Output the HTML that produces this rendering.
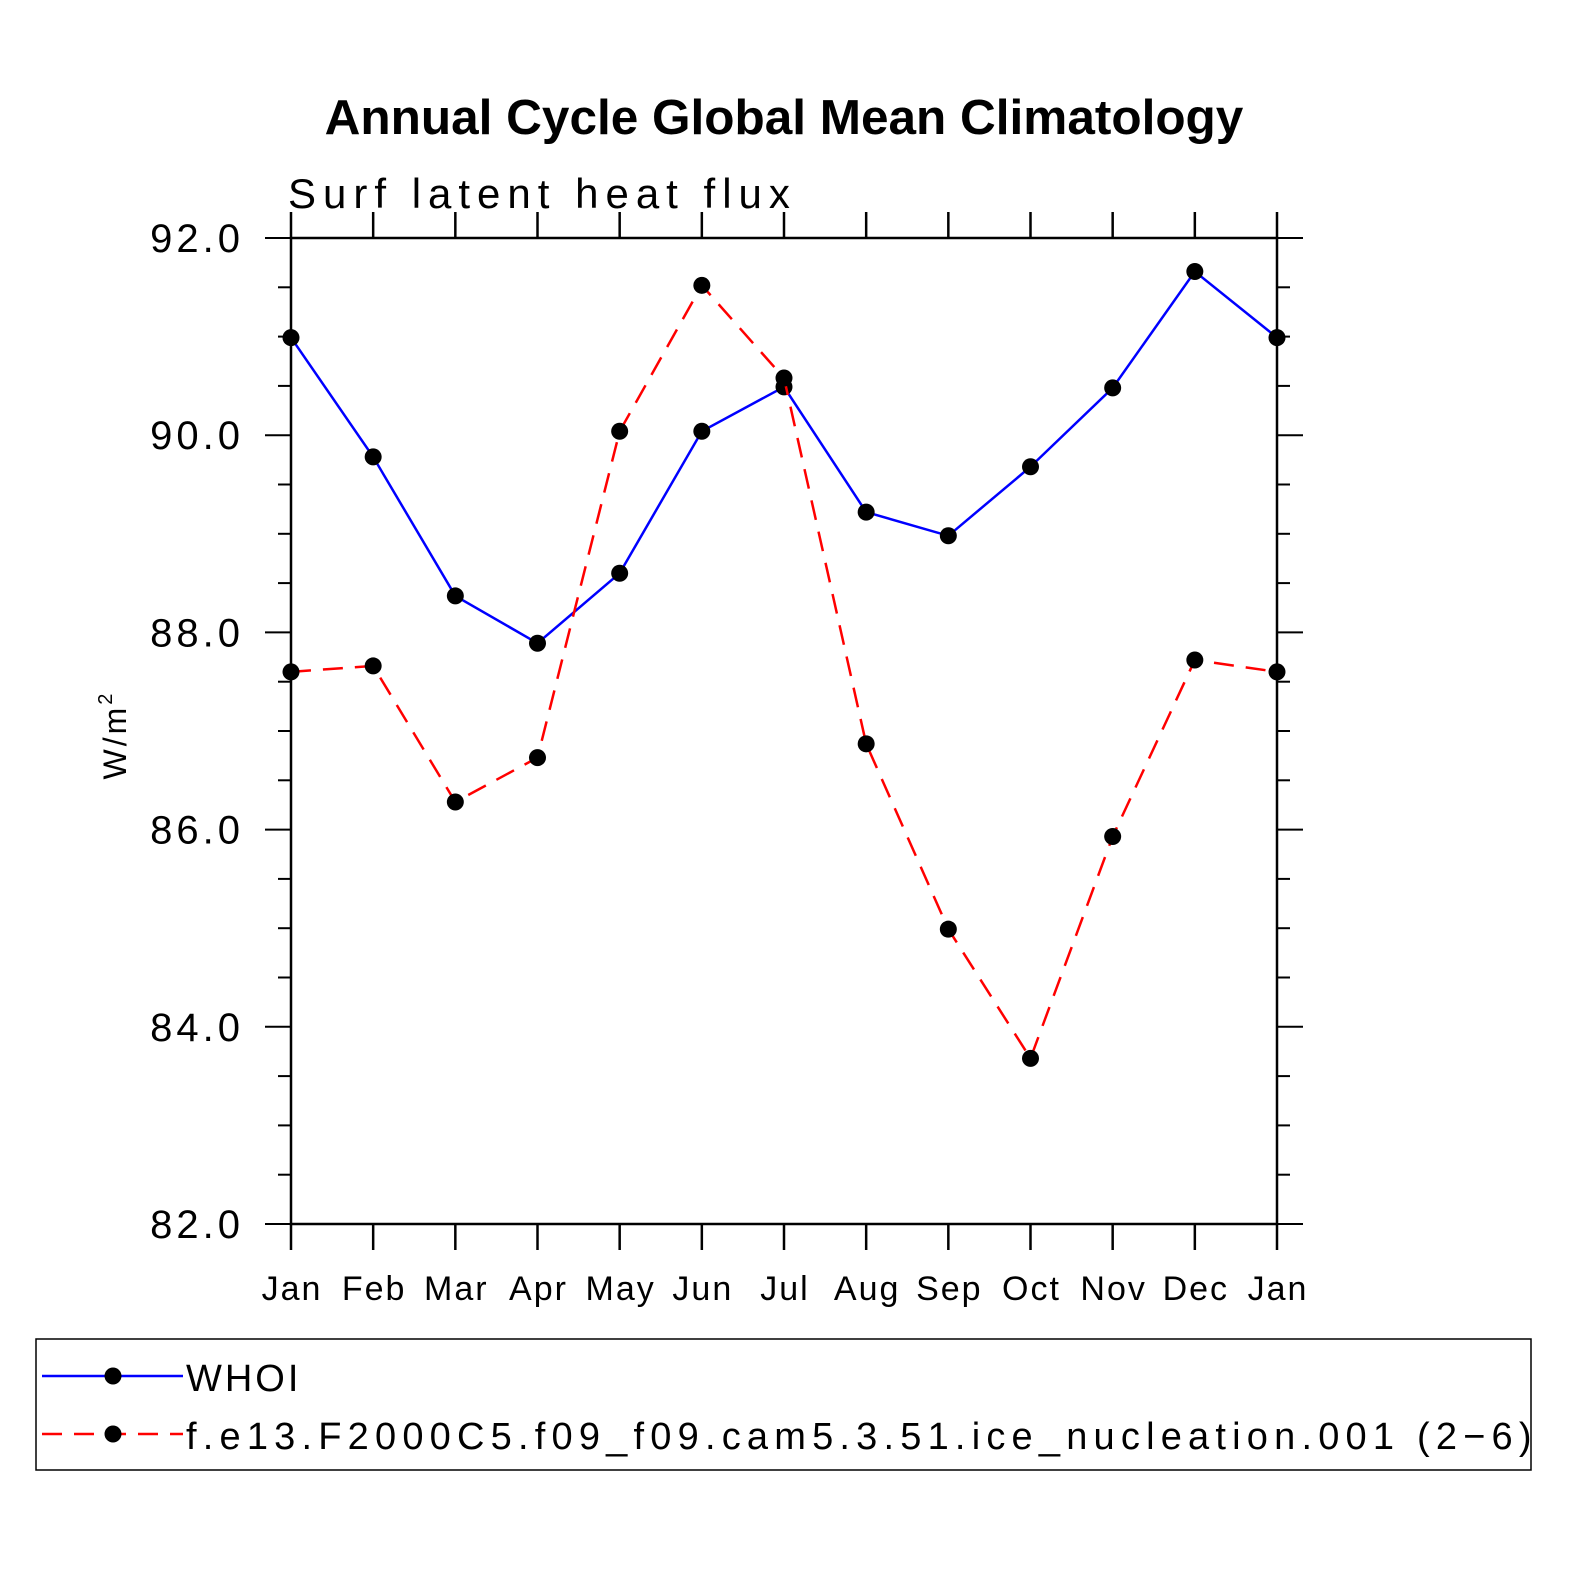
<!DOCTYPE html>
<html><head><meta charset="utf-8"><style>
html,body{margin:0;padding:0;background:#fff;}
svg{display:block;font-family:"Liberation Sans",sans-serif;}
</style></head><body>
<svg id="chart" width="1574" height="1574" viewBox="0 0 1574 1574">
<text x="784" y="134" text-anchor="middle" font-size="49.5" font-weight="bold">Annual Cycle Global Mean Climatology</text>
<text x="288" y="208" font-size="42" letter-spacing="7">Surf  latent  heat  flux</text>
<text transform="translate(126,735) rotate(-90)" text-anchor="middle" font-size="32" letter-spacing="3">W/m<tspan font-size="20" dy="-14">2</tspan></text>
<g id="axes"></g>
<g id="series"></g>
<rect x="36" y="1339" width="1495" height="131" fill="none" stroke="#000" stroke-width="1.5"/>
<g>
<line x1="42" y1="1376" x2="183" y2="1376" stroke="#00f" stroke-width="2.5"/>
<circle cx="113" cy="1376" r="8.5"/>
<text x="186" y="1391" font-size="38" letter-spacing="3">WHOI</text>
</g>
<g>
<line x1="42" y1="1434" x2="183" y2="1434" stroke="#f00" stroke-width="2.5" stroke-dasharray="20,12"/>
<circle cx="113" cy="1434" r="8.5"/>
<text x="186" y="1449" font-size="38" letter-spacing="6.2">f.e13.F2000C5.f09_f09.cam5.3.51.ice_nucleation.001 (2−6)</text>
</g>
</svg>
<script>
const months=["Jan","Feb","Mar","Apr","May","Jun","Jul","Aug","Sep","Oct","Nov","Dec","Jan"];
const whoi=[90.99,89.78,88.37,87.89,88.60,90.04,90.49,89.22,88.98,89.68,90.48,91.66,90.99];
const model=[87.60,87.66,86.28,86.73,90.04,91.52,90.58,86.87,84.99,83.68,85.93,87.72,87.60];
const yTicks=[82,84,86,88,90,92];
const yTickLabels=["82.0","84.0","86.0","88.0","90.0","92.0"];
const NS="http://www.w3.org/2000/svg";
const X0=291,X1=1277,Y0=1224,Y1=238,ymin=82,ymax=92;
const xs=i=>X0+(X1-X0)*i/(months.length-1);
const ys=v=>Y0-(v-ymin)/(ymax-ymin)*(Y0-Y1);
function mk(tag,attrs,parent){const e=document.createElementNS(NS,tag);for(const k in attrs)e.setAttribute(k,attrs[k]);parent.appendChild(e);return e;}
const ax=document.getElementById('axes');
const frame=mk('rect',{x:X0,y:Y1,width:X1-X0,height:Y0-Y1,fill:'none',stroke:'#000','stroke-width':2.5},ax);


months.forEach((m,i)=>{
  const x=xs(i);
  mk('line',{x1:x,y1:Y0,x2:x,y2:Y0+26,stroke:'#000','stroke-width':2.5},ax);
  mk('line',{x1:x,y1:Y1,x2:x,y2:Y1-26,stroke:'#000','stroke-width':2.5},ax);
  const t=mk('text',{x:x+1,y:1300,'text-anchor':'middle','font-size':34,'letter-spacing':2},ax);
  t.textContent=m;
  
  
});
for(let v=ymin;v<=ymax+1e-9;v+=0.5){
  const y=ys(v);const major=Math.abs(v-Math.round(v/2)*2)<1e-6;
  const L=major?26:13;
  mk('line',{x1:X0-L,y1:y,x2:X0,y2:y,stroke:'#000','stroke-width':2},ax);
  mk('line',{x1:X1,y1:y,x2:X1+L,y2:y,stroke:'#000','stroke-width':2},ax);
}
yTicks.forEach((v,i)=>{
  const t=mk('text',{x:244,y:ys(v)+14,'text-anchor':'end','font-size':40,'letter-spacing':4},ax);
  t.textContent=yTickLabels[i];
  
  
});
const sg=document.getElementById('series');
function series(vals,color,dash,name){
  const g=mk('g',{},sg);
  
  
  const pl=mk('polyline',{points:vals.map((v,i)=>xs(i)+','+ys(v)).join(' '),fill:'none',stroke:color,'stroke-width':2.5},g);
  if(dash)pl.setAttribute('stroke-dasharray',dash);
  vals.forEach((v,i)=>{
    const c=mk('circle',{cx:xs(i),cy:ys(v),r:8.5,fill:'#000'},g);
    
    
  });
}
series(whoi,'#00f',null,'series-whoi');
series(model,'#f00','20,12','series-model');
</script>
</body></html>
